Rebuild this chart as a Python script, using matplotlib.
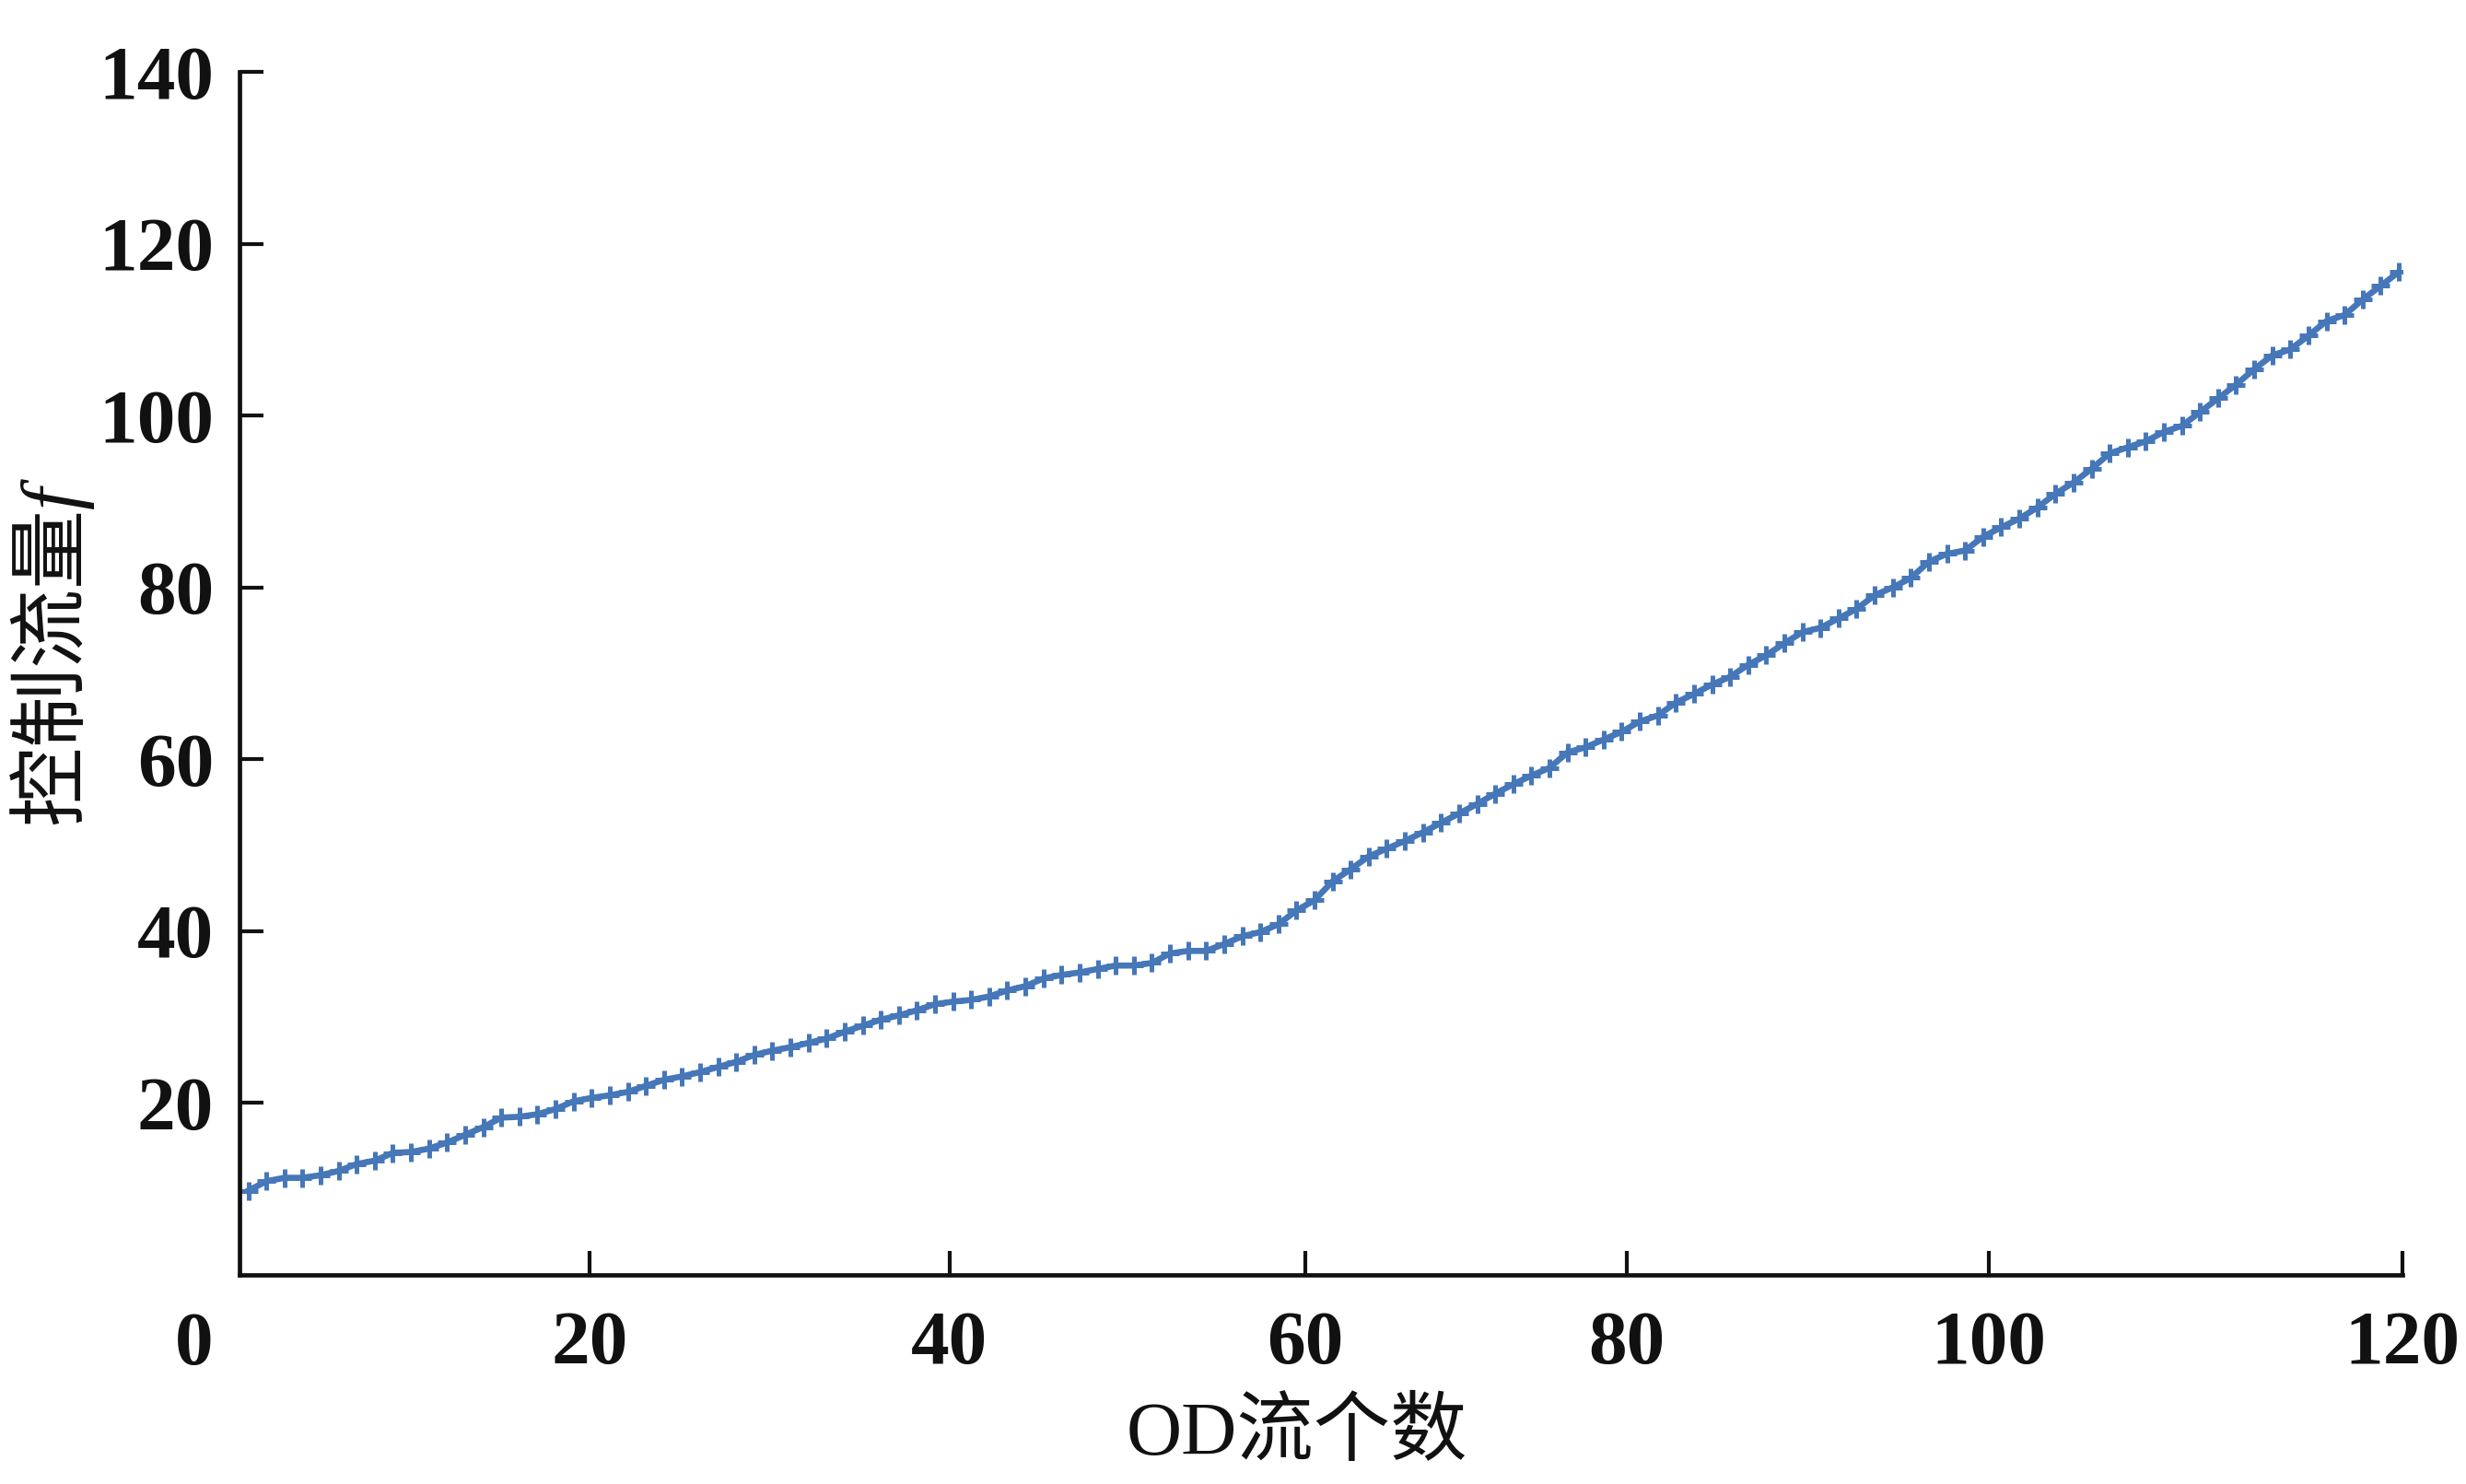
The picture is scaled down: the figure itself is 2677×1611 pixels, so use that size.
import matplotlib
matplotlib.use("Agg")
import matplotlib.pyplot as plt
import matplotlib.transforms as mtransforms

# ---- data ----
od_count = list(range(1, 121))
control_flow = [
    9.8, 10.9, 11.3, 11.3, 11.6, 12.1, 12.9, 13.3, 14.2, 14.3,
    14.7, 15.4, 16.3, 17.2, 18.3, 18.4, 18.7, 19.3, 20.2, 20.6,
    20.9, 21.3, 22.0, 22.7, 23.1, 23.6, 24.2, 24.8, 25.6, 26.1,
    26.5, 27.0, 27.5, 28.3, 29.0, 29.7, 30.2, 30.8, 31.5, 31.8,
    32.0, 32.4, 33.1, 33.6, 34.5, 34.9, 35.2, 35.6, 36.0, 36.0,
    36.3, 37.4, 37.7, 37.7, 38.5, 39.4, 39.9, 40.8, 42.4, 43.6,
    45.8, 47.2, 48.7, 49.6, 50.5, 51.5, 52.6, 53.7, 54.8, 56.0,
    57.1, 58.1, 59.0, 60.8, 61.4, 62.3, 63.2, 64.4, 65.1, 66.6,
    67.6, 68.7, 69.6, 71.0, 72.1, 73.5, 74.8, 75.3, 76.4, 77.5,
    79.1, 80.0, 81.1, 83.0, 83.9, 84.3, 85.9, 87.0, 88.0, 89.3,
    90.9, 92.2, 93.8, 95.6, 96.3, 97.0, 98.1, 98.8, 100.4, 102.0,
    103.6, 105.4, 107.0, 107.7, 109.3, 111.0, 111.7, 113.5, 115.1, 116.7,
]
xtick_pos = [19.9, 39.8, 59.5, 77.3, 97.3, 120.2]
xtick_labels = ["20", "40", "60", "80", "100", "120"]
ytick_vals = [20, 40, 60, 80, 100, 120, 140]

plt.rcParams["mathtext.fontset"] = "custom"
plt.rcParams["mathtext.it"] = "Liberation Serif:italic"
plt.rcParams["mathtext.rm"] = "Liberation Serif"

fig = plt.figure(figsize=(13.385, 8.055), dpi=200)
ax = fig.add_axes([0.0971, 0.1409, 0.8771, 0.8107])

ax.plot(od_count, control_flow, color="#4677B8", lw=2.4,
        marker="+", markersize=7, markeredgewidth=1.8)

ax.set_xlim(0.51, 120.2)
ax.set_ylim(0, 140)

for s in ["top", "right"]:
    ax.spines[s].set_visible(False)
for s in ["left", "bottom"]:
    ax.spines[s].set_linewidth(1.7)
    ax.spines[s].set_color("#111111")

ax.set_xticks(xtick_pos)
ax.set_xticklabels(xtick_labels)
ax.set_yticks(ytick_vals)
ax.set_yticklabels([str(v) for v in ytick_vals])

ax.tick_params(axis="both", direction="in", length=9.4, width=1.5,
               color="#111111", labelcolor="#111111")
ax.tick_params(axis="x", pad=14)
ax.tick_params(axis="y", pad=10)
for lab in ax.get_xticklabels() + ax.get_yticklabels():
    lab.set_fontfamily("Liberation Serif")
    lab.set_fontweight("bold")
    lab.set_fontsize(30)

# '0' label at the origin, left of the axis
trans = mtransforms.blended_transform_factory(ax.transData, ax.transAxes)
ax.text(-2.0, -0.0306, "0", transform=trans, ha="center", va="top",
        fontsize=30, fontweight="bold", family="Liberation Serif",
        color="#111111", clip_on=False)

ax.set_xlabel("OD流个数", family=["Liberation Serif", "Noto Sans CJK SC"],
              fontsize=30, color="#111111")
ax.xaxis.set_label_coords(0.489, -0.104)

ax.set_ylabel("控制流量$f$", family=["Noto Sans CJK SC", "Liberation Serif"],
              fontsize=31, color="#111111", va="center", fontweight="medium")
ax.yaxis.set_label_coords(-0.0865, 0.5176)

fig.savefig("out.png", dpi=200, facecolor="white")
